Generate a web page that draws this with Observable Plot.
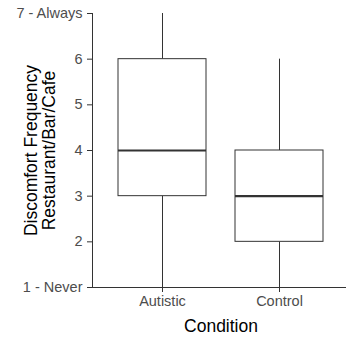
<!DOCTYPE html>
<html>
<head>
<meta charset="utf-8">
<script src="https://cdn.jsdelivr.net/npm/d3@7"></script>
<script src="https://cdn.jsdelivr.net/npm/@observablehq/plot@0.6"></script>
<style>
  html, body { margin: 0; padding: 0; background: #fff; }
  #chart { width: 346px; height: 340px; overflow: hidden; }
</style>
</head>
<body>
<div id="chart"></div>
<script>
const conditions = ["Autistic", "Control"];
const whiskerLow = [1, 1];
const quartile1 = [3, 2];
const medians = [4, 3];
const quartile3 = [6, 4];
const whiskerHigh = [7, 6];
const yTicks = [1, 2, 3, 4, 5, 6, 7];
const yTickLabels = ["1 - Never", "2", "3", "4", "5", "6", "7 - Always"];
const yTitle = "Discomfort Frequency\nRestaurant/Bar/Cafe";
const xTitle = "Condition";

const data = conditions.map((c, i) => ({
  c, lo: whiskerLow[i], q1: quartile1[i], med: medians[i], q3: quartile3[i], hi: whiskerHigh[i]
}));

const chart = Plot.plot({
  width: 346,
  height: 340,
  marginLeft: 92,
  marginRight: -3,
  marginTop: 13,
  marginBottom: 53,
  style: { fontFamily: "'Liberation Sans', Arial, sans-serif", background: "#fff", overflow: "hidden" },
  x: { type: "band", domain: conditions, paddingInner: 0.248, paddingOuter: 0.222, axis: null },
  y: { domain: [1, 7], axis: null },
  marks: [
    Plot.ruleX(data, { x: "c", y1: "lo", y2: "q1", stroke: "#333", strokeWidth: 1 }),
    Plot.ruleX(data, { x: "c", y1: "q3", y2: "hi", stroke: "#333", strokeWidth: 1 }),
    Plot.barY(data, { x: "c", y1: "q1", y2: "q3", fill: "white", stroke: "#333", strokeWidth: 1 }),
    Plot.tickY(data, { x: "c", y: "med", stroke: "#333", strokeWidth: 2.2 }),
    Plot.frame({ anchor: "left", stroke: "#333", strokeWidth: 1 }),
    Plot.frame({ anchor: "bottom", stroke: "#333", strokeWidth: 1 }),
    Plot.axisY({
      ticks: yTicks,
      tickFormat: (d) => yTickLabels[yTicks.indexOf(d)],
      tickSize: 5,
      tickPadding: 5,
      fontSize: 14.5,
      stroke: "#333",
      fill: "#4d4d4d",
      label: null
    }),
    Plot.axisX({
      tickSize: 5,
      tickPadding: 3,
      fontSize: 14.5,
      stroke: "#333",
      fill: "#4d4d4d",
      label: null
    }),
    Plot.text([yTitle], {
      frameAnchor: "left",
      text: (d) => d,
      rotate: -90,
      dx: -52,
      fontSize: 17.5,
      lineHeight: 0.98,
      fill: "#000",
      textAnchor: "middle",
      lineAnchor: "middle"
    }),
    Plot.text([xTitle], {
      frameAnchor: "bottom",
      text: (d) => d,
      dy: 39,
      fontSize: 17.5,
      fill: "#000",
      lineAnchor: "middle"
    })
  ]
});
document.getElementById("chart").append(chart);
</script>
</body>
</html>
